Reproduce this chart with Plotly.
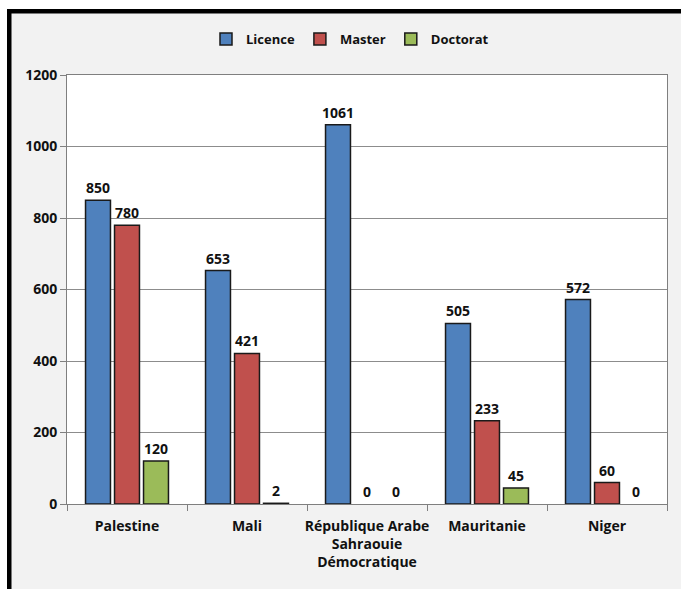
import plotly.graph_objects as go

categories = ["Palestine", "Mali", "République Arabe<br>Sahraouie<br>Démocratique", "Mauritanie", "Niger"]
licence = [850, 653, 1061, 505, 572]
master = [780, 421, 0, 233, 60]
doctorat = [120, 2, 0, 45, 0]
series_names = ["Licence", "Master", "Doctorat"]
colors = ["#4F81BD", "#C0504D", "#9BBB59"]
y_ticks = [0, 200, 400, 600, 800, 1000, 1200]

W, H = 681, 589
ML, MR, MT, MB = 67, 14, 75, 85
PW, PH = W - ML - MR, H - MT - MB

def px_x(px):
    return (px - ML) / PW

def px_y(py):
    return (H - MB - py) / PH

fig = go.Figure()
for name, vals, col in zip(series_names, [licence, master, doctorat], colors):
    fig.add_trace(go.Bar(
        name=name, x=categories, y=vals,
        marker=dict(color=col, line=dict(color="#1a1a1a", width=[1.5 if v > 0 else 0 for v in vals])),
        text=[str(v) for v in vals], textposition="outside", constraintext="none",
        textfont=dict(family="Open Sans", size=14, color="#111", weight="bold"),
        cliponaxis=False,
    ))

shapes = [
    dict(type="rect", xref="paper", yref="paper", x0=px_x(-5), x1=px_x(7), y0=px_y(H + 5), y1=px_y(-5),
         fillcolor="white", line=dict(width=0), layer="above"),
    dict(type="rect", xref="paper", yref="paper", x0=px_x(-5), x1=px_x(W + 5), y0=px_y(9), y1=px_y(-5),
         fillcolor="white", line=dict(width=0), layer="above"),
    dict(type="rect", xref="paper", yref="paper", x0=px_x(7), x1=px_x(11.5), y0=px_y(H + 5), y1=px_y(9),
         fillcolor="black", line=dict(width=0), layer="above"),
    dict(type="rect", xref="paper", yref="paper", x0=px_x(7), x1=px_x(W + 5), y0=px_y(13.5), y1=px_y(9),
         fillcolor="black", line=dict(width=0), layer="above"),
]

fig.update_layout(
    width=W, height=H,
    margin=dict(l=ML, r=MR, t=MT, b=MB, pad=0, autoexpand=False),
    paper_bgcolor="#F2F2F2", plot_bgcolor="white",
    font=dict(family="Open Sans", size=14, color="#111", weight="bold"),
    barmode="group", bargap=0.275, bargroupgap=0.14,
    showlegend=True,
    legend=dict(orientation="h", x=px_x(350), xanchor="center", y=px_y(39), yanchor="middle",
                font=dict(family="Open Sans", size=13, color="#111", weight="bold"),
                bgcolor="rgba(0,0,0,0)", itemwidth=30, traceorder="normal"),
    shapes=shapes,
    xaxis=dict(showline=True, linecolor="#7f7f7f", linewidth=1, mirror=True, automargin=False,
               ticks="outside", ticklen=6, tickcolor="#7f7f7f", tickson="boundaries", tickangle=0,
               ticklabelstandoff=9,
               showgrid=False, tickfont=dict(size=14, weight="bold")),
    yaxis=dict(range=[0, 1200], tickvals=y_ticks, showline=True, linecolor="#7f7f7f", mirror=True,
               automargin=False, ticks="outside", ticklen=6, tickcolor="#7f7f7f",
               showgrid=True, gridcolor="#8c8c8c", gridwidth=1, zeroline=False,
               tickfont=dict(size=14, weight="bold")),
)

fig.write_html("out.html", config={"displayModeBar": False},
               post_script="document.body.style.margin='0';document.body.style.overflow='hidden';")
